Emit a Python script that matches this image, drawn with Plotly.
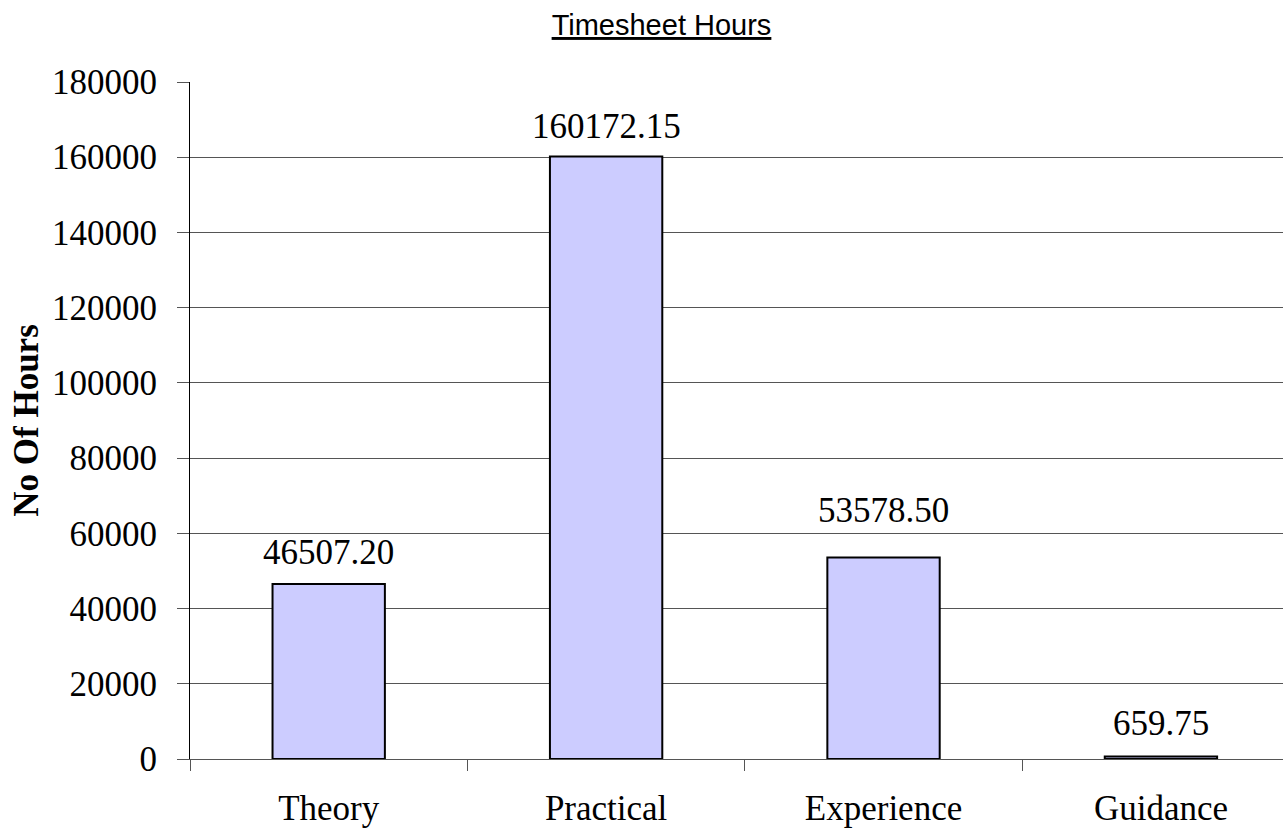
import plotly.graph_objects as go

categories = ["Theory", "Practical", "Experience", "Guidance"]
hours = [46507.20, 160172.15, 53578.50, 659.75]
label_texts = ["46507.20", "160172.15", "53578.50", "659.75"]
y_ticks = [0, 20000, 40000, 60000, 80000, 100000, 120000, 140000, 160000, 180000]

# styling: vertical offset (px) of each value label above its bar
label_shift = {"Theory": 10, "Practical": 9, "Experience": 25, "Guidance": 12}

serif = "Liberation Serif, Times New Roman, serif"
grid_col = "#555555"

fig = go.Figure()
fig.add_trace(go.Bar(
    x=categories, y=hours, width=0.405,
    marker=dict(color="#ccccff", line=dict(color="black", width=2)),
    hoverinfo="x+y",
))

for c, v, t in zip(categories, hours, label_texts):
    fig.add_annotation(x=c, y=v, text=t, showarrow=False, yanchor="bottom",
                       yshift=label_shift[c],
                       font=dict(family=serif, size=35, color="black"))

fig.update_layout(
    width=1283, height=832,
    margin=dict(l=190, r=0, t=82, b=73),
    plot_bgcolor="white", paper_bgcolor="white",
    showlegend=False,
    title=dict(text="Timesheet Hours", x=661.5 / 1283, xanchor="center",
               xref="container", yref="container", y=1 - 35 / 832, yanchor="bottom",
               font=dict(family="Liberation Sans, Arial, sans-serif", size=29, color="black",
                         lineposition="under")),
)

fig.update_xaxes(
    type="category", range=[-0.5, 3.44],
    tickson="boundaries", ticks="outside", ticklen=11, tickcolor=grid_col, tickwidth=1,
    showline=True, linecolor=grid_col, linewidth=1,
    showgrid=False,
    tickfont=dict(family=serif, size=35, color="black"),
    ticklabelstandoff=18,
)
fig.update_yaxes(
    range=[0, 180000], tickvals=y_ticks, ticktext=[str(v) for v in y_ticks],
    ticks="outside", ticklen=12, tickcolor=grid_col, tickwidth=1,
    showline=True, linecolor="black", linewidth=1,
    showgrid=True, gridcolor=grid_col, gridwidth=1,
    zeroline=False,
    tickfont=dict(family=serif, size=35, color="black"),
    ticklabelstandoff=13,
    title=dict(text="<b>No Of Hours</b>", standoff=2,
               font=dict(family=serif, size=35, color="black")),
)

fig.write_html("out.html", config={"displayModeBar": False},
               post_script="document.body.style.margin='0';")
